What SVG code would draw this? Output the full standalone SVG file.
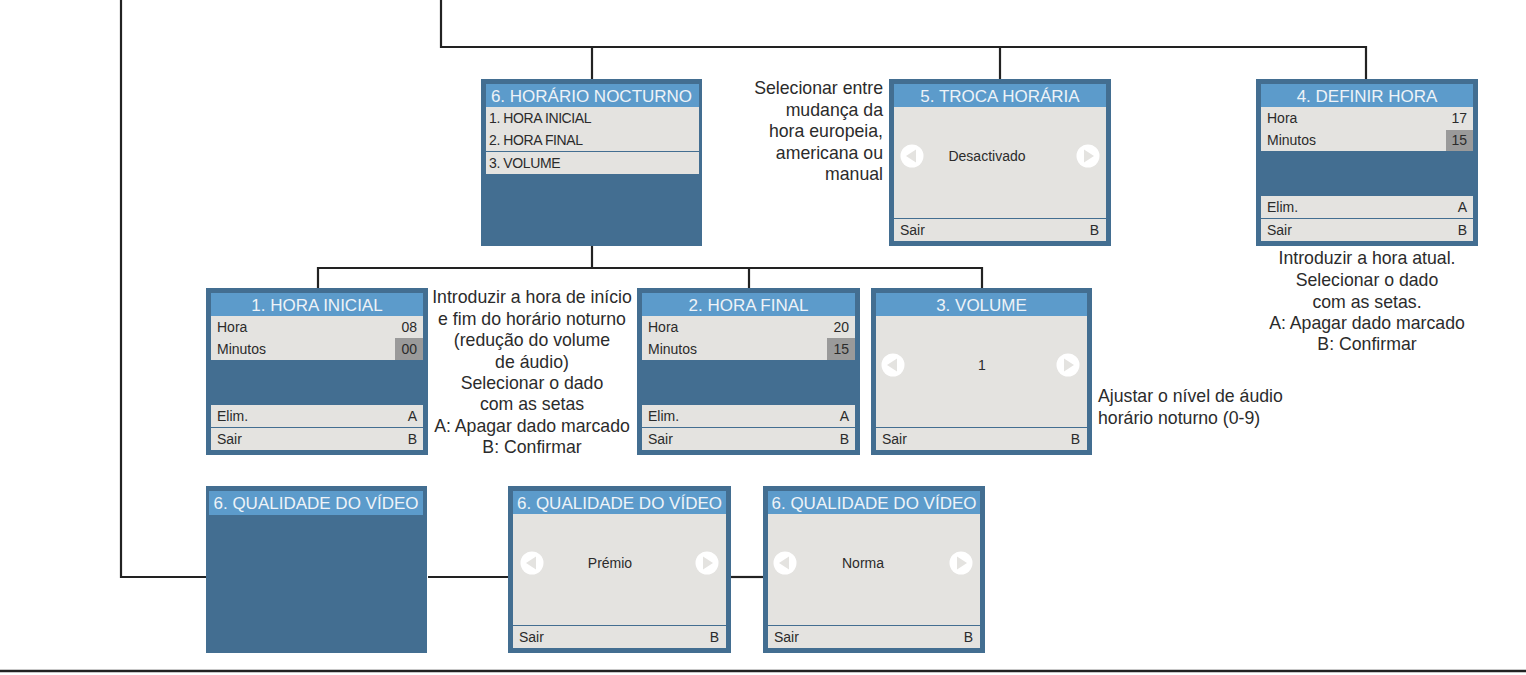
<svg xmlns="http://www.w3.org/2000/svg" width="1526" height="675" viewBox="0 0 1526 675">
<style>
.pn{fill:#436e91}
.tb{fill:#5c9bcb}
.lt{fill:#e4e3e0}
.vb{fill:#9a9a9a}
.tt{font-family:"Liberation Sans",Arial,sans-serif;font-size:17px;fill:#eef3f8;text-anchor:middle}
.rt{font-family:"Liberation Sans",Arial,sans-serif;font-size:14px;fill:#2b2b2b}
.re{text-anchor:end}
.rm{text-anchor:middle}
.ds{font-family:"Liberation Sans",Arial,sans-serif;font-size:17.7px;fill:#2b2b2b}
.ln{fill:none;stroke:#222;stroke-width:2.2}
.ac{fill:#fff}
.at{fill:#e4e3e0}
</style>
<defs>
<g id="al"><circle class="ac" r="11.5"/><polygon class="at" points="-6,0 4,-6.5 4,6.5"/></g>
<g id="ar"><circle class="ac" r="11.5"/><polygon class="at" points="6,0 -4,-6.5 -4,6.5"/></g>
</defs>
<g id="connectors">
<path class="ln" d="M121,0 V577 H206"/>
<path class="ln" d="M441,0 V47 H1366 V79"/>
<path class="ln" d="M592,47 V79"/>
<path class="ln" d="M1000,47 V79"/>
<path class="ln" d="M592,246 V268"/>
<path class="ln" d="M318,288 V268 H982 V288"/>
<path class="ln" d="M749,268 V288"/>
<path class="ln" d="M428,577 H508"/>
<path class="ln" d="M731,577 H763"/>
<path fill="none" stroke="#222" stroke-width="2.6" d="M0,671 H1526"/>
</g>
<g id="horario-nocturno" transform="translate(481,79)">
<rect class="pn" width="221" height="167"/>
<rect class="tb" x="5" y="5" width="213" height="23"/>
<text class="tt" x="110.5" y="23">6. HORÁRIO NOCTURNO</text>
<rect class="lt" x="5" y="28" width="213" height="44"/>
<rect class="lt" x="5" y="73" width="213" height="22"/>
<text class="rt" x="8" y="44" letter-spacing="-0.4">1. HORA INICIAL</text>
<text class="rt" x="8" y="66" letter-spacing="-0.4">2. HORA FINAL</text>
<text class="rt" x="8" y="89" letter-spacing="-0.4">3. VOLUME</text>
</g>
<g id="troca-horaria" transform="translate(889,79)">
<rect class="pn" width="222" height="167"/>
<rect class="tb" x="5" y="5" width="212" height="23"/>
<text class="tt" x="111" y="23">5. TROCA HORÁRIA</text>
<rect class="lt" x="5" y="28" width="212" height="111"/>
<rect class="lt" x="5" y="140" width="212" height="22"/>
<use href="#al" x="23" y="77"/>
<use href="#ar" x="199" y="77"/>
<text class="rt rm" x="98" y="82">Desactivado</text>
<text class="rt" x="11" y="156">Sair</text>
<text class="rt re" x="210" y="156">B</text>
</g>
<g id="troca-desc">
<text class="ds" text-anchor="end" x="883" y="94">Selecionar entre</text>
<text class="ds" text-anchor="end" x="883" y="115.5">mudança da</text>
<text class="ds" text-anchor="end" x="883" y="137">hora europeia,</text>
<text class="ds" text-anchor="end" x="883" y="158.5">americana ou</text>
<text class="ds" text-anchor="end" x="883" y="180">manual</text>
</g>
<g id="definir-hora" transform="translate(1256,79)">
<rect class="pn" width="222" height="167"/>
<rect class="tb" x="5" y="5" width="212" height="23"/>
<text class="tt" x="111" y="23">4. DEFINIR HORA</text>
<rect class="lt" x="5" y="28" width="212" height="44"/>
<rect class="vb" x="190" y="51" width="27" height="21"/>
<text class="rt" x="11" y="44">Hora</text>
<text class="rt re" x="211" y="44">17</text>
<text class="rt" x="11" y="66">Minutos</text>
<text class="rt re" x="211" y="66">15</text>
<rect class="lt" x="5" y="117" width="212" height="22"/>
<rect class="lt" x="5" y="140" width="212" height="22"/>
<text class="rt" x="11" y="133">Elim.</text>
<text class="rt re" x="211" y="133">A</text>
<text class="rt" x="11" y="156">Sair</text>
<text class="rt re" x="211" y="156">B</text>
</g>
<g id="definir-desc">
<text class="ds" text-anchor="middle" x="1367" y="264">Introduzir a hora atual.</text>
<text class="ds" text-anchor="middle" x="1367" y="286">Selecionar o dado</text>
<text class="ds" text-anchor="middle" x="1367" y="307.5">com as setas.</text>
<text class="ds" text-anchor="middle" x="1367" y="329">A: Apagar dado marcado</text>
<text class="ds" text-anchor="middle" x="1367" y="350">B: Confirmar</text>
</g>
<g id="hora-inicial" transform="translate(206,288)">
<rect class="pn" width="222" height="167"/>
<rect class="tb" x="5" y="5" width="212" height="23"/>
<text class="tt" x="111" y="23">1. HORA INICIAL</text>
<rect class="lt" x="5" y="28" width="212" height="44"/>
<rect class="vb" x="189" y="50" width="28" height="22"/>
<text class="rt" x="11" y="44">Hora</text>
<text class="rt re" x="211" y="44">08</text>
<text class="rt" x="11" y="66">Minutos</text>
<text class="rt re" x="211" y="66">00</text>
<rect class="lt" x="5" y="117" width="212" height="22"/>
<rect class="lt" x="5" y="140" width="212" height="22"/>
<text class="rt" x="11" y="133">Elim.</text>
<text class="rt re" x="211" y="133">A</text>
<text class="rt" x="11" y="156">Sair</text>
<text class="rt re" x="211" y="156">B</text>
</g>
<g id="horario-desc">
<text class="ds" text-anchor="middle" x="532" y="303">Introduzir a hora de início</text>
<text class="ds" text-anchor="middle" x="532" y="325">e fim do horário noturno</text>
<text class="ds" text-anchor="middle" x="532" y="346">(redução do volume</text>
<text class="ds" text-anchor="middle" x="532" y="368">de áudio)</text>
<text class="ds" text-anchor="middle" x="532" y="389">Selecionar o dado</text>
<text class="ds" text-anchor="middle" x="532" y="410">com as setas</text>
<text class="ds" text-anchor="middle" x="532" y="432">A: Apagar dado marcado</text>
<text class="ds" text-anchor="middle" x="532" y="453">B: Confirmar</text>
</g>
<g id="hora-final" transform="translate(637,288)">
<rect class="pn" width="223" height="167"/>
<rect class="tb" x="5" y="5" width="213" height="23"/>
<text class="tt" x="111.5" y="23">2. HORA FINAL</text>
<rect class="lt" x="5" y="28" width="213" height="44"/>
<rect class="vb" x="190" y="50" width="28" height="22"/>
<text class="rt" x="11" y="44">Hora</text>
<text class="rt re" x="212" y="44">20</text>
<text class="rt" x="11" y="66">Minutos</text>
<text class="rt re" x="212" y="66">15</text>
<rect class="lt" x="5" y="117" width="213" height="22"/>
<rect class="lt" x="5" y="140" width="213" height="22"/>
<text class="rt" x="11" y="133">Elim.</text>
<text class="rt re" x="212" y="133">A</text>
<text class="rt" x="11" y="156">Sair</text>
<text class="rt re" x="212" y="156">B</text>
</g>
<g id="volume" transform="translate(871,288)">
<rect class="pn" width="221" height="167"/>
<rect class="tb" x="5" y="5" width="211" height="23"/>
<text class="tt" x="110.5" y="23">3. VOLUME</text>
<rect class="lt" x="5" y="28" width="211" height="111"/>
<rect class="lt" x="5" y="140" width="211" height="22"/>
<use href="#al" x="22" y="77"/>
<use href="#ar" x="197" y="77"/>
<text class="rt rm" x="111" y="82">1</text>
<text class="rt" x="11" y="156">Sair</text>
<text class="rt re" x="209" y="156">B</text>
</g>
<g id="volume-desc">
<text class="ds" x="1098" y="402">Ajustar o nível de áudio</text>
<text class="ds" x="1098" y="424">horário noturno (0-9)</text>
</g>
<g id="qualidade-1" transform="translate(206,486)">
<rect class="pn" width="221" height="167"/>
<rect class="tb" x="3" y="5" width="214" height="24"/>
<text class="tt" x="110" y="23">6. QUALIDADE DO VÍDEO</text>
</g>
<g id="qualidade-2" transform="translate(508,486)">
<rect class="pn" width="223" height="167"/>
<rect class="tb" x="5" y="5" width="213" height="23"/>
<text class="tt" x="111.5" y="23">6. QUALIDADE DO VÍDEO</text>
<rect class="lt" x="5" y="28" width="213" height="111"/>
<rect class="lt" x="5" y="140" width="213" height="22"/>
<use href="#al" x="24" y="77"/>
<use href="#ar" x="199" y="77"/>
<text class="rt rm" x="102" y="82">Prémio</text>
<text class="rt" x="11" y="156">Sair</text>
<text class="rt re" x="211" y="156">B</text>
</g>
<g id="qualidade-3" transform="translate(763,486)">
<rect class="pn" width="222" height="167"/>
<rect class="tb" x="5" y="5" width="212" height="23"/>
<text class="tt" x="111" y="23">6. QUALIDADE DO VÍDEO</text>
<rect class="lt" x="5" y="28" width="212" height="111"/>
<rect class="lt" x="5" y="140" width="212" height="22"/>
<use href="#al" x="22" y="77"/>
<use href="#ar" x="198" y="77"/>
<text class="rt rm" x="100" y="82">Norma</text>
<text class="rt" x="11" y="156">Sair</text>
<text class="rt re" x="210" y="156">B</text>
</g>
</svg>
